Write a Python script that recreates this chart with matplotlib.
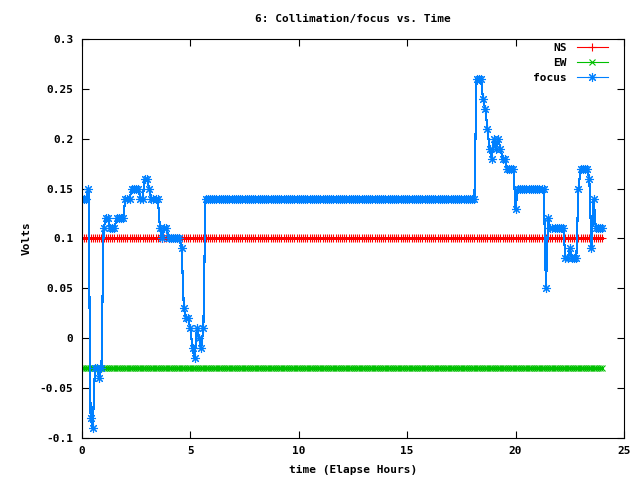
import numpy as np
import matplotlib
matplotlib.use("Agg")
import matplotlib.pyplot as plt

# sampling interval of the log (hours)
step_hours = 0.1
n_samples = 241

# run-length encoded readings: (volts, number of samples)
ns_runs = [(0.10, 241)]
ew_runs = [(-0.03, 241)]
focus_runs = [
    (0.14, 3), (0.15, 1), (-0.08, 1), (-0.09, 1), (-0.03, 2), (-0.04, 1),
    (-0.03, 1), (0.11, 1), (0.12, 2), (0.11, 3), (0.12, 4), (0.14, 3),
    (0.15, 4), (0.14, 2), (0.16, 2), (0.15, 1), (0.14, 4), (0.11, 1),
    (0.10, 1), (0.11, 2), (0.10, 6), (0.09, 1), (0.03, 1), (0.02, 2),
    (0.01, 1), (-0.01, 1), (-0.02, 1), (0.01, 1), (0.00, 1), (-0.01, 1),
    (0.01, 1), (0.14, 125), (0.26, 3), (0.24, 1), (0.23, 1), (0.21, 1),
    (0.19, 1), (0.18, 1), (0.20, 1), (0.19, 1), (0.20, 1), (0.19, 1),
    (0.18, 2), (0.17, 4), (0.13, 1), (0.15, 13), (0.05, 1), (0.12, 1),
    (0.11, 7), (0.08, 2), (0.09, 1), (0.08, 3), (0.15, 1), (0.17, 4),
    (0.16, 1), (0.09, 1), (0.14, 1), (0.11, 4),
]

x_ticks = [0, 5, 10, 15, 20, 25]
y_ticks = [-0.1, -0.05, 0, 0.05, 0.1, 0.15, 0.2, 0.25, 0.3]
y_tick_labels = ["-0.1", "-0.05", "0", "0.05", "0.1", "0.15", "0.2", "0.25", "0.3"]


def expand(runs):
    return np.concatenate([np.full(count, value) for value, count in runs])


hours = np.arange(n_samples) * step_hours
ns = expand(ns_runs)
ew = expand(ew_runs)
focus = expand(focus_runs)

font = {"family": "DejaVu Sans Mono", "weight": "bold", "size": 8}

fig = plt.figure(figsize=(6.4, 4.8), dpi=100)
ax = fig.add_axes([0.128, 0.0875, 0.847, 0.8315])

ax.plot(hours, ns, color="#ff0000", lw=0.8, marker="+", ms=6, mew=0.8,
        label="NS", antialiased=False)
ax.plot(hours, ew, color="#00c000", lw=0.8, marker="x", ms=4.5, mew=0.8,
        label="EW", antialiased=False)
ax.plot(hours, focus, color="#0080ff", lw=0.8, marker=(8, 2, 0), ms=6.5, mew=0.8,
        label="focus", antialiased=False)

ax.set_xlim(0, 25)
ax.set_ylim(-0.1, 0.3)
ax.set_xticks(x_ticks)
ax.set_xticklabels([str(t) for t in x_ticks], fontdict=font)
ax.set_yticks(y_ticks)
ax.set_yticklabels(y_tick_labels, fontdict=font)
ax.tick_params(direction="in", top=True, right=True, length=5, width=0.8, pad=6)
for s in ax.spines.values():
    s.set_linewidth(0.8)

ax.set_title("6: Collimation/focus vs. Time", fontdict=font, pad=12)
ax.set_xlabel("time (Elapse Hours)", fontdict=font, labelpad=6)
ax.set_ylabel("Volts", fontdict=font, labelpad=6)

leg = ax.legend(loc="upper right", bbox_to_anchor=(0.978, 1.0), frameon=False,
                markerfirst=False, prop=font, handlelength=2.8,
                labelspacing=0.45, borderaxespad=0, handletextpad=0.9)

fig.savefig("out.png", dpi=100)
